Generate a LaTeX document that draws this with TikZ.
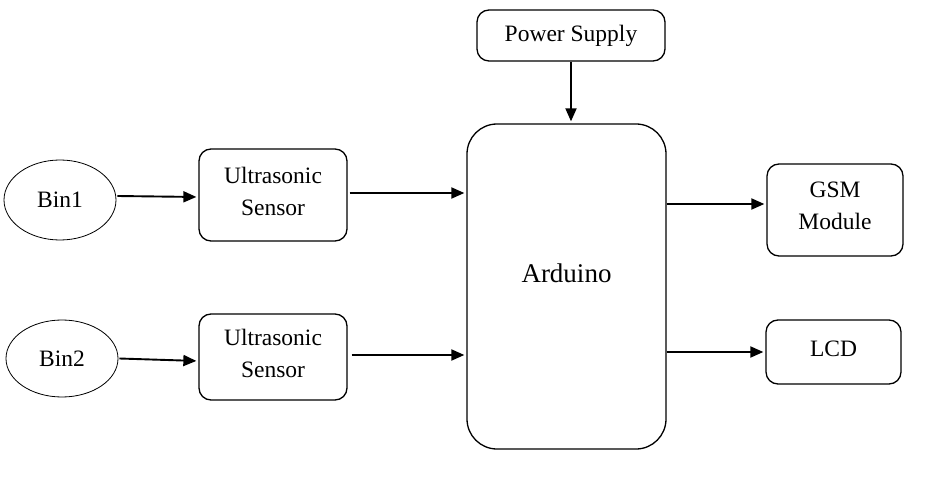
\documentclass[tikz,border=0pt]{standalone}
\usepackage{fontspec}
\setmainfont{Liberation Serif}
\usetikzlibrary{shapes.geometric,arrows.meta}
\begin{document}
\begin{tikzpicture}[x=1pt,y=-1pt,
  box/.style={draw,line width=1.3pt,rounded corners=12pt,align=center,inner sep=0pt,
    font=\fontsize{23.5}{32}\selectfont},
  oval/.style={draw,ellipse,line width=0.8pt,inner sep=0pt,font=\fontsize{23.5}{32}\selectfont},
  arr/.style={line width=1.9pt,-{Triangle[length=13pt,width=11pt]},shorten >=2pt}]
\useasboundingbox (0,0) rectangle (933,486);
\node[box,minimum width=188pt,minimum height=51pt] (ps) at (571,35.5) {\raisebox{-1pt}{Power Supply}};
\node[box,rounded corners=30pt,minimum width=199pt,minimum height=325pt] (ard) at (566.5,286.5) {\raisebox{26pt}{\fontsize{27}{32}\selectfont Arduino}};
\node[oval,minimum width=112pt,minimum height=80pt] (b1) at (60,200) {Bin1};
\node[oval,minimum width=112pt,minimum height=77pt] (b2) at (62,358.5) {Bin2};
\node[box,minimum width=148pt,minimum height=92pt,text depth=8pt] (us1) at (273,195) {Ultrasonic\\Sensor};
\node[box,minimum width=148pt,minimum height=86pt,text depth=8pt] (us2) at (273,357) {Ultrasonic\\Sensor};
\node[box,minimum width=136pt,minimum height=92pt,text depth=8pt] (gsm) at (835,210) {GSM\\Module};
\node[box,minimum width=135pt,minimum height=64pt] (lcd) at (833.5,352) {\raisebox{7pt}{LCD}};
\coordinate (u1o) at ([xshift=2pt,yshift=2pt]us1.east);
\coordinate (u2o) at ([xshift=4pt,yshift=2pt]us2.east);
\coordinate (gi) at ([yshift=6pt]gsm.west);
\draw[arr] (ps.south) -- (ard.north -| ps.south);
\draw[arr] ([xshift=1pt,yshift=4pt]b1.east) -- ([yshift=-2pt]us1.west);
\draw[arr] (u1o) -- (ard.west |- u1o);
\draw[arr] ([xshift=1pt]b2.east) -- ([yshift=-4pt]us2.west);
\draw[arr] (u2o) -- (ard.west |- u2o);
\draw[arr] (ard.east |- gi) -- (gi);
\draw[arr] (ard.east |- lcd.west) -- (lcd.west);
\end{tikzpicture}
\end{document}
